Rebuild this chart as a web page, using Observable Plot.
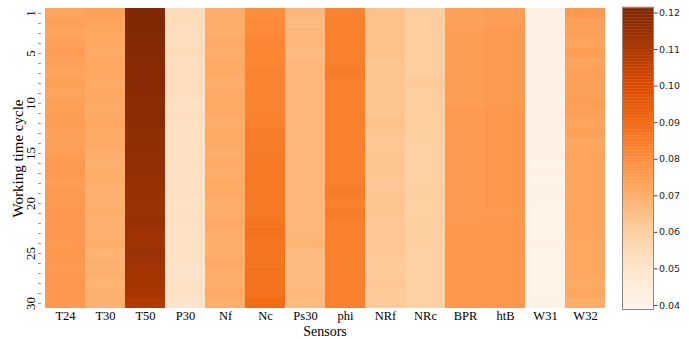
<!DOCTYPE html>
<html>
<head>
<meta charset="utf-8">
<script src="https://cdn.jsdelivr.net/npm/d3@7"></script>
<script src="https://cdn.jsdelivr.net/npm/@observablehq/plot@0.6"></script>
<style>
  html, body { margin: 0; padding: 0; background: #fff; }
  #wrap { position: relative; width: 689px; height: 339px; }
  #main, #bar { position: absolute; top: 0; }
  #main { left: 0; }
  #bar { left: 612px; }
</style>
</head>
<body>
<div id="wrap"><div id="main"></div><div id="bar"></div></div>
<script>
const sensors = ["T24","T30","T50","P30","Nf","Nc","Ps30","phi","NRf","NRc","BPR","htB","W31","W32"];
const cycles = d3.range(1, 31);
const yTickLabels = [1, 5, 10, 15, 20, 25, 30];
const colorbarTicks = [0.04, 0.05, 0.06, 0.07, 0.08, 0.09, 0.10, 0.11, 0.12];
const colorDomain = [0.0389, 0.1215];
const orangesColors = ["#fff5eb","#fee6ce","#fdd0a2","#fdae6b","#fd8d3c","#f16913","#d94801","#a63603","#7f2704"];

const T24  = [0.073,0.074,0.073,0.074,0.075,0.074,0.073,0.074,0.073,0.074, 0.075,0.075,0.074,0.074,0.075,0.076,0.076,0.075,0.076,0.076, 0.077,0.076,0.077,0.076,0.077,0.076,0.076,0.077,0.077,0.076];
const T30  = [0.074,0.073,0.072,0.072,0.071,0.072,0.072,0.071,0.072,0.071, 0.071,0.072,0.071,0.071,0.070,0.069,0.070,0.070,0.069,0.069, 0.070,0.069,0.069,0.070,0.068,0.069,0.069,0.068,0.069,0.069];
const T50  = [0.121,0.121,0.121,0.120,0.120, 0.119,0.119,0.119,0.119,0.118, 0.118,0.118,0.117,0.117,0.117, 0.116,0.116,0.115,0.115,0.114, 0.114,0.115,0.113,0.113,0.114, 0.113,0.112,0.112,0.111,0.109];
const P30  = [0.054,0.054,0.053,0.053,0.054,0.053,0.053,0.053,0.053,0.052, 0.053,0.052,0.052,0.052,0.052,0.052,0.052,0.051,0.052,0.051, 0.052,0.051,0.051,0.051,0.051,0.051,0.050,0.051,0.051,0.050];
const Nf   = [0.070,0.070,0.070,0.071,0.070,0.071,0.071,0.070,0.071,0.071, 0.071,0.070,0.071,0.071,0.070,0.071,0.070,0.071,0.071,0.070, 0.070,0.071,0.070,0.070,0.070,0.071,0.070,0.070,0.071,0.070];
const Nc   = [0.080,0.081,0.081,0.082,0.082,0.082,0.083,0.083,0.083,0.083, 0.083,0.084,0.085,0.085,0.085,0.086,0.086,0.086,0.086,0.086, 0.086,0.087,0.088,0.087,0.087,0.087,0.088,0.088,0.088,0.090];
const Ps30 = [0.067,0.066,0.067,0.067,0.066,0.067,0.067,0.067,0.067,0.067, 0.067,0.067,0.067,0.067,0.067,0.067,0.067,0.067,0.067,0.067, 0.067,0.067,0.067,0.068,0.066,0.066,0.066,0.066,0.067,0.066];
const phi  = [0.083,0.084,0.084,0.084,0.084,0.084,0.085,0.084,0.084,0.084, 0.084,0.084,0.084,0.084,0.084,0.084,0.084,0.084,0.085,0.084, 0.085,0.084,0.084,0.084,0.084,0.084,0.084,0.084,0.084,0.084];
const NRf  = [0.064,0.064,0.064,0.064,0.064,0.063,0.063,0.063,0.063,0.063, 0.063,0.064,0.063,0.062,0.063,0.063,0.063,0.062,0.063,0.063, 0.063,0.062,0.062,0.062,0.062,0.061,0.061,0.062,0.061,0.061];
const NRc  = [0.060,0.060,0.060,0.060,0.060,0.060,0.060,0.061,0.060,0.060, 0.060,0.060,0.060,0.059,0.059,0.059,0.059,0.059,0.060,0.059, 0.059,0.060,0.059,0.060,0.059,0.059,0.059,0.059,0.059,0.059];
const BPR  = [0.074,0.074,0.075,0.075,0.075,0.075,0.075,0.075,0.075,0.075, 0.076,0.076,0.076,0.076,0.076,0.076,0.076,0.076,0.076,0.076, 0.076,0.076,0.077,0.077,0.077,0.077,0.077,0.077,0.077,0.077];
const htB  = [0.075,0.075,0.076,0.076,0.076,0.076,0.076,0.076,0.076,0.076, 0.077,0.077,0.077,0.077,0.077,0.077,0.077,0.077,0.077,0.077, 0.076,0.077,0.077,0.077,0.077,0.077,0.077,0.077,0.077,0.077];
const W31  = [0.041,0.041,0.041,0.041,0.041,0.041,0.041,0.041,0.041,0.041, 0.041,0.041,0.041,0.041,0.041,0.040,0.041,0.040,0.041,0.040, 0.040,0.040,0.040,0.041,0.040,0.040,0.040,0.040,0.040,0.040];
const W32  = [0.076,0.074,0.074,0.073,0.075,0.073,0.074,0.074,0.074,0.075, 0.074,0.073,0.074,0.072,0.073,0.073,0.073,0.073,0.073,0.073, 0.073,0.073,0.073,0.072,0.072,0.072,0.072,0.071,0.072,0.070];

const series = {T24, T30, T50, P30, Nf, Nc, Ps30, phi, NRf, NRc, BPR, htB, W31, W32};
const cells = [];
for (const s of sensors) series[s].forEach((v, i) => cells.push({sensor: s, cycle: cycles[i], value: v}));

const colorOpts = {
  type: "linear",
  domain: d3.range(9).map(i => colorDomain[0] + i * (colorDomain[1] - colorDomain[0]) / 8),
  range: orangesColors,
  interpolate: "rgb"
};

const serif = "'Liberation Serif', 'Times New Roman', serif";

const main = Plot.plot({
  width: 615, height: 339,
  marginLeft: 41, marginRight: 7, marginTop: 7, marginBottom: 30,
  style: {fontFamily: serif, fontSize: "12px", color: "#000", background: "#fff"},
  x: {type: "band", domain: sensors, padding: 0, label: null},
  y: {type: "band", domain: cycles, padding: 0, label: null},
  color: colorOpts,
  marks: [
    Plot.cell(cells, {x: "sensor", y: "cycle", fill: "value", inset: 0}),
    Plot.axisX({tickSize: 0, tickPadding: 2, fontSize: 12.5, label: null}),
    Plot.axisY({tickSize: 3, stroke: "#999", tickFormat: d => "", label: null}),
    Plot.text(yTickLabels, {y: d => d, frameAnchor: "left", dx: -11, rotate: -90, text: d => String(d), fontSize: 13, textAnchor: "middle", lineAnchor: "middle"}),
    Plot.text(["Working time cycle"], {frameAnchor: "left", dx: -23, rotate: -90, text: d => d, fontSize: 15, textAnchor: "middle"}),
    Plot.text(["Sensors"], {frameAnchor: "bottom", dy: 22.5, text: d => d, fontSize: 14, lineAnchor: "middle"})
  ]
});
document.getElementById("main").appendChild(main);

const steps = d3.range(0, 200).map(i => colorDomain[0] + (i + 0.5) * (colorDomain[1] - colorDomain[0]) / 200);
const dstep = (colorDomain[1] - colorDomain[0]) / 200;
const bar = Plot.plot({
  width: 77, height: 339,
  marginLeft: 10, marginRight: 36, marginTop: 7, marginBottom: 30,
  style: {fontFamily: "'DejaVu Sans', sans-serif", fontSize: "9.5px", color: "#262626", background: "transparent"},
  x: {domain: [0, 1], axis: null},
  y: {domain: colorDomain, axis: null},
  color: colorOpts,
  marks: [
    Plot.rect(steps, {x1: 0, x2: 1, y1: d => d - dstep / 2 - 0.00005, y2: d => d + dstep / 2 + 0.00005, fill: d => d}),
    Plot.frame({stroke: "#888", strokeWidth: 1}),
    Plot.axisY({anchor: "right", ticks: colorbarTicks, tickFormat: d3.format(".2f"), tickSize: 3.5, tickPadding: 2, stroke: "#444", label: null})
  ]
});
document.getElementById("bar").appendChild(bar);
</script>
</body>
</html>
